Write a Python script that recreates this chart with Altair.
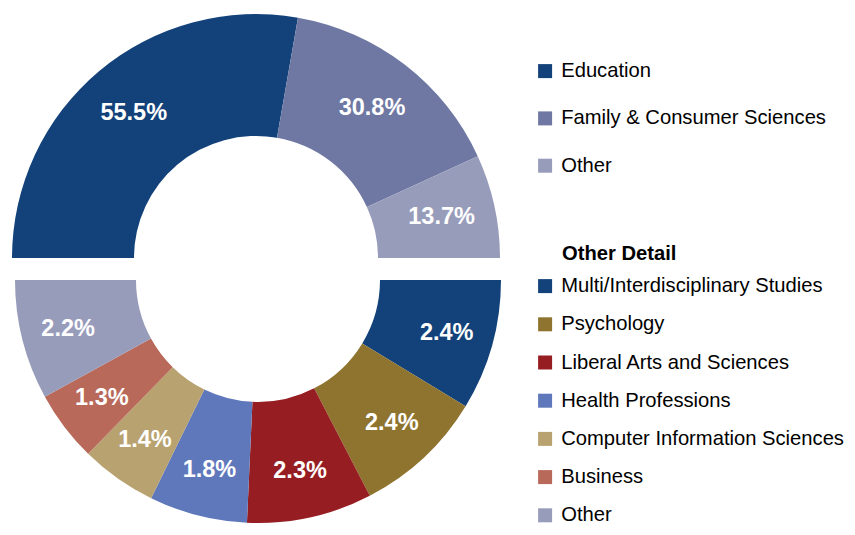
import altair as alt
import pandas as pd

# ---- data ----
top_cats = ["Education", "Family & Consumer Sciences", "Other"]
top_vals = [55.5, 30.8, 13.7]
top_colors = ["#13427A", "#6E78A3", "#989CBB"]

detail_cats = ["Multi/Interdisciplinary Studies", "Psychology", "Liberal Arts and Sciences",
               "Health Professions", "Computer Information Sciences", "Business", "Other"]
detail_vals = [2.4, 2.4, 2.3, 1.8, 1.4, 1.3, 2.2]
detail_colors = ["#13427A", "#8F7430", "#961E22", "#5F78BC", "#B8A270", "#B8695A", "#989CBB"]

FONT = "Liberation Sans"
PI = 3.141592653589793
LEG_FONT = 20.2

top_df = pd.DataFrame({"cat": top_cats, "val": top_vals, "idx": range(len(top_cats))})
top_df["label"] = [f"{v:.1f}%" for v in top_vals]
det_df = pd.DataFrame({"cat": detail_cats, "val": detail_vals, "idx": range(len(detail_cats))})
det_df["label"] = [f"{v:.1f}%" for v in detail_vals]

# ---- top half ----
top_theta = alt.Theta("val:Q", stack=True,
                      scale=alt.Scale(domain=[0, sum(top_vals)], range=[-PI / 2, PI / 2]))
top_base = alt.Chart(top_df).encode(theta=top_theta, order=alt.Order("idx:Q"))
top_arc = top_base.mark_arc(radius=244, radius2=122).encode(
    x=alt.value(248), y=alt.value(250),
    color=alt.Color("cat:N", sort=top_cats,
                    scale=alt.Scale(domain=top_cats, range=top_colors),
                    title=None,
                    legend=alt.Legend(orient="none", legendX=527, legendY=53,
                                      rowPadding=26.3)),
)
top_text = top_base.mark_text(radius=190, font=FONT, fontSize=23.5, fontWeight="bold",
                              color="white", baseline="middle", align="center").encode(
    x=alt.value(248), y=alt.value(250), text="label:N")
top = alt.layer(top_arc, top_text)

# ---- bottom half ----
bot_theta = alt.Theta("val:Q", stack=True,
                      scale=alt.Scale(domain=[0, sum(detail_vals)], range=[PI / 2, 3 * PI / 2]))
bot_base = alt.Chart(det_df).encode(theta=bot_theta, order=alt.Order("idx:Q"))
bot_arc = bot_base.mark_arc(radius=243, radius2=122).encode(
    x=alt.value(250), y=alt.value(272),
    color=alt.Color("cat:N", sort=detail_cats,
                    scale=alt.Scale(domain=detail_cats, range=detail_colors),
                    title=None,
                    legend=alt.Legend(orient="none", legendX=527, legendY=268,
                                      rowPadding=17.2)),
)
bot_text = bot_base.mark_text(radius=196, font=FONT, fontSize=23.5, fontWeight="bold",
                              color="white", baseline="middle", align="center").encode(
    x=alt.value(250), y=alt.value(272), text="label:N")
bot_title = alt.Chart(pd.DataFrame({"t": ["Other Detail"]})).mark_text(
    font=FONT, fontSize=LEG_FONT, fontWeight="bold", color="black", align="left", baseline="middle"
).encode(x=alt.value(554), y=alt.value(246), text="t:N")
bottom = alt.layer(bot_arc, bot_text)

chart = alt.layer(top, bottom, bot_title).resolve_scale(
    theta="independent", color="independent"
).properties(
    width=839, height=519, padding=0, autosize=alt.AutoSizeParams(type="none")
).configure_view(stroke=None).configure_legend(
    symbolType="square", symbolSize=196, symbolStrokeWidth=0, symbolOpacity=1,
    labelFont=FONT, labelFontSize=LEG_FONT, labelColor="black", labelOffset=6,
    labelLimit=400, padding=0,
)

chart.save("out.html", embed_options={"renderer": "svg", "actions": False})
